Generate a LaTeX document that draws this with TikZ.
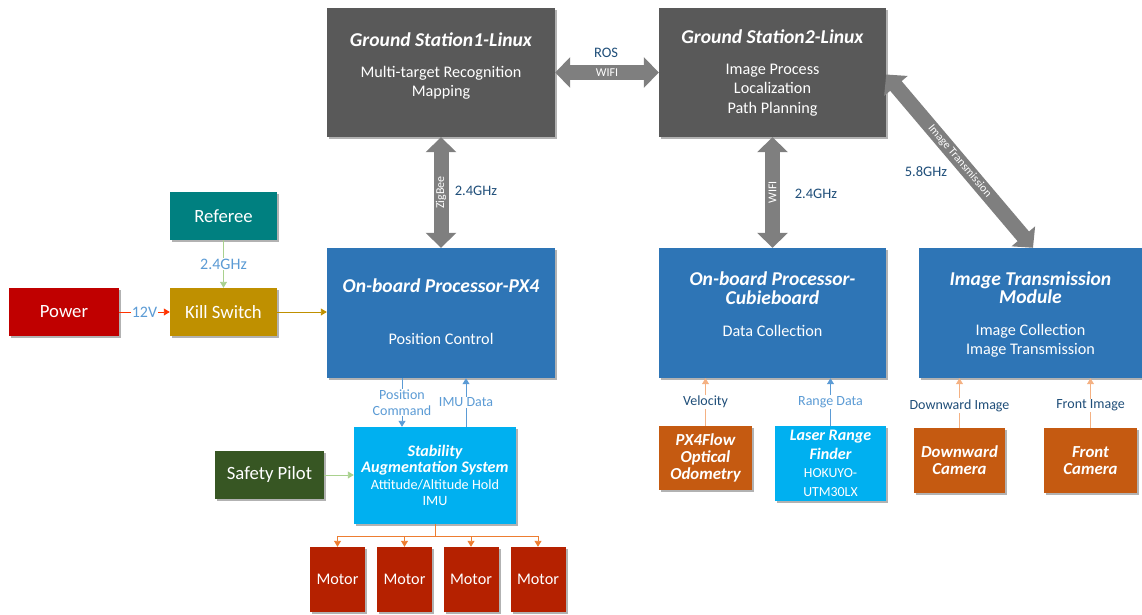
\documentclass[tikz,border=0pt]{standalone}
\usepackage{fontspec}
\setmainfont{Carlito}
\usetikzlibrary{arrows.meta,shadows}
\definecolor{dgray}{HTML}{595959}
\definecolor{pblue}{HTML}{2E75B6}
\definecolor{cyanb}{HTML}{00B0F0}
\definecolor{tealb}{HTML}{008080}
\definecolor{redb}{HTML}{C00000}
\definecolor{goldb}{HTML}{BF9000}
\definecolor{greenb}{HTML}{375623}
\definecolor{motorred}{HTML}{B52100}
\definecolor{orngb}{HTML}{C55A11}
\definecolor{arrgray}{HTML}{7F7F7F}
\definecolor{lbl}{HTML}{1F4E79}
\definecolor{lbltwo}{HTML}{5B9BD5}
\definecolor{lgreen}{HTML}{A9D18E}
\definecolor{lorange}{HTML}{F4B183}
\definecolor{morange}{HTML}{ED7D31}
\definecolor{lred}{HTML}{FF3300}
\newcommand\bittl[1]{{\fontsize{16.1}{18.5}\selectfont\bfseries\itshape #1}}
\tikzset{
  box/.style={rectangle, inner sep=2pt, text=white, align=center,
    drop shadow={shadow xshift=2pt, shadow yshift=-2pt, opacity=0.3, fill=black}},
  ttl/.style={text=white, font=\fontsize{19.6}{18.5}\selectfont\bfseries\itshape, align=center},
  bodytxt/.style={text=white, font=\fontsize{16.2}{19.5}\selectfont, align=center},
  bigarrow/.style={draw=arrgray, line width=15pt, {Triangle[width=30pt,length=15pt]}-{Triangle[width=30pt,length=15pt]}},
  inarrow/.style={text=white, font=\fontsize{12}{14}\selectfont},
  biglbl/.style={text=lbl, font=\fontsize{14.5}{17}\selectfont},
  smlbl/.style={font=\fontsize{14}{15.5}\selectfont, fill=white, inner sep=1pt, align=center},
  midlbl/.style={font=\fontsize{16}{18}\selectfont, fill=white, inner sep=1pt, align=center},
  boxfont/.style={font=\fontsize{18.7}{21}\selectfont},
  orgfont/.style={font=\fontsize{16.8}{17}\selectfont\bfseries\itshape},
  tip/.style={-{Triangle[width=7pt,length=6pt]}},
  conn/.style={line width=0.9pt, tip}
}
\begin{document}
\begin{tikzpicture}[x=1pt,y=-1pt]
\useasboundingbox (0,0) rectangle (1142,615);

% ground stations
\node[box, fill=dgray, minimum width=228, minimum height=129] (gs1) at (441,72.5) {};
\node[ttl] (gs1t) at (441,40) {Ground Station1-Linux};
\node[bodytxt] (gs1b) at (441,83) {Multi-target Recognition\\Mapping};

\node[box, fill=dgray, minimum width=227, minimum height=129] (gs2) at (772.5,72.5) {};
\node[ttl] (gs2t) at (772.5,37) {Ground Station2-Linux};
\node[bodytxt] (gs2b) at (772.5,90) {Image Process\\Localization\\Path Planning};

% processors
\node[box, fill=pblue, minimum width=228, minimum height=130] (px4) at (441,313) {};
\node[ttl] (px4t) at (441,286) {On-board Processor-PX4};
\node[bodytxt] (px4b) at (441,339) {Position Control};

\node[box, fill=pblue, minimum width=227, minimum height=130] (cubie) at (772.5,313) {};
\node[ttl] (cubiet) at (772.5,288) {On-board Processor-\\Cubieboard};
\node[bodytxt] (cubieb) at (772.5,331) {Data Collection};

\node[box, fill=pblue, minimum width=223, minimum height=130] (itm) at (1030.5,313) {};
\node[ttl] (itmt) at (1030.5,287.5) {Image Transmission\\Module};
\node[bodytxt] (itmb) at (1030.5,341) {Image Collection\\Image Transmission};

% left column
\node[box, fill=tealb, minimum width=107, minimum height=48, boxfont] (ref) at (223.5,216) {Referee};
\node[box, fill=redb, minimum width=110, minimum height=48, boxfont] (pow) at (64,312) {Power};
\node[box, fill=goldb, minimum width=107, minimum height=48, boxfont] (kill) at (223.5,312) {Kill Switch};
\node[box, fill=greenb, minimum width=109, minimum height=48, boxfont] (pilot) at (269.5,475) {Safety Pilot};

% SAS
\node[box, fill=cyanb, minimum width=162, minimum height=97, font=\fontsize{14.2}{16.5}\selectfont] (sas) at (435,475.5) {\bittl{Stability}\\\bittl{Augmentation System}\\Attitude/Altitude Hold\\IMU};

% motors
\foreach \i/\x in {1/337.5,2/404.5,3/471,4/538}
  \node[box, fill=motorred, minimum width=55, minimum height=65, font=\fontsize{16.2}{18}\selectfont] (m\i) at (\x,579.5) {Motor};

% sensors
\node[box, fill=orngb, minimum width=93, minimum height=64, orgfont] (flow) at (705.5,458) {PX4Flow\\Optical\\Odometry};
\node[box, fill=cyanb, minimum width=111, minimum height=75, font=\fontsize{13.8}{18.5}\selectfont] (laser) at (830.5,463.5) {\bittl{Laser Range}\\\bittl{Finder}\\HOKUYO-\\UTM30LX};
\node[box, fill=orngb, minimum width=91, minimum height=65, orgfont] (dcam) at (959.5,460.5) {Downward\\Camera};
\node[box, fill=orngb, minimum width=93, minimum height=65, orgfont] (fcam) at (1090.5,460.5) {Front\\Camera};

% big arrows
\draw[bigarrow] (gs1.east) -- node[inarrow] {WIFI} (gs2.west);
\node[biglbl] (ros) at (606,53) {ROS};
\draw[bigarrow] (gs1.south) -- node[inarrow, rotate=90] {ZigBee} (px4.north);
\node[biglbl] (z24) at (476,191) {2.4GHz};
\draw[bigarrow] (gs2.south) -- node[inarrow, rotate=90] {WIFI} (cubie.north);
\node[biglbl] (w24) at (816,194) {2.4GHz};
\draw[bigarrow] ([yshift=-2]gs2.east) -- node[inarrow, sloped, font=\fontsize{11.5}{13}\selectfont] {Image Transmission} ([xshift=2.5]itm.north);
\node[biglbl] (t58) at (926,172) {5.8GHz};

% small connectors
\draw[conn, lgreen] (ref.south) -- node[midlbl, text=lbltwo] {2.4GHz} (kill.north);
\draw[conn, lred] (pow.east) -- node[midlbl, text=lbltwo] {12V} (kill.west);
\draw[conn, goldb] (kill.east) -- (kill.east -| px4.west);
\draw[conn, lbltwo] ([xshift=-39]px4.south) -- node[smlbl, text=lbltwo] {Position\\Command} ([xshift=-39]px4.south |- sas.north);
\draw[conn, lbltwo] ([xshift=31]sas.north) -- node[smlbl, text=lbltwo] {IMU Data} ([xshift=31]sas.north |- px4.south);
\draw[conn, lgreen] (pilot.east) -- (pilot.east -| sas.west);

\draw[line width=0.9pt, morange] (sas.south) -- ++(0,12) coordinate (bus);
\draw[line width=0.9pt, morange] (m1.north |- bus) -- (m4.north |- bus);
\foreach \i in {1,2,3,4}
  \draw[conn, morange] (m\i.north |- bus) -- (m\i.north);

\draw[conn, lorange] (flow.north) -- node[smlbl, text=lbl] {Velocity} (flow.north |- cubie.south);
\draw[conn, lbltwo] (laser.north) -- node[smlbl, text=lbltwo] {Range Data} (laser.north |- cubie.south);
\draw[conn, lorange] (dcam.north) -- node[smlbl, text=lbl, pos=0.45] {Downward Image} (dcam.north |- itm.south);
\draw[conn, lorange] (fcam.north) -- node[smlbl, text=lbl, pos=0.45] {Front Image} (fcam.north |- itm.south);
\end{tikzpicture}
\end{document}
